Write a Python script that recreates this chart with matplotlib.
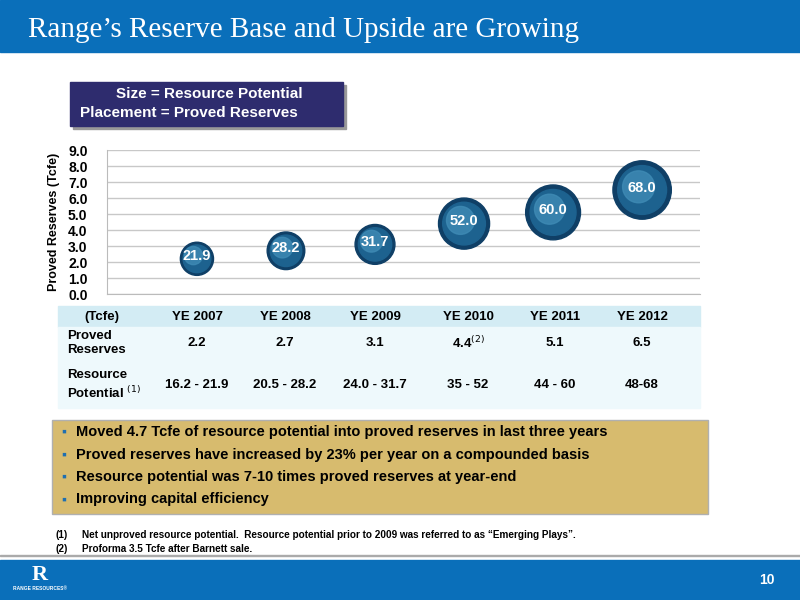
import matplotlib.pyplot as plt
from matplotlib.patches import Rectangle

plt.rcParams["font.family"] = ["Liberation Sans", "DejaVu Sans"]

years = ["YE 2007", "YE 2008", "YE 2009", "YE 2010", "YE 2011", "YE 2012"]
proved = [2.2, 2.7, 3.1, 4.4, 5.1, 6.5]
potential = [21.9, 28.2, 31.7, 52.0, 60.0, 68.0]
proved_labels = ["2.2", "2.7", "3.1", "4.4$^{(2)}$", "5.1", "6.5"]
potential_labels = ["16.2 - 21.9", "20.5 - 28.2", "24.0 - 31.7", "35 - 52", "44 - 60", "48-68"]
bullets = [
    "Moved 4.7 Tcfe of resource potential into proved reserves in last three years",
    "Proved reserves have increased by 23% per year on a compounded basis",
    "Resource potential was 7-10 times proved reserves at year-end",
    "Improving capital efficiency",
]

W, H = 800, 600
fig = plt.figure(figsize=(8, 6), dpi=100)
fig.patch.set_facecolor("white")


def box(x0, y0, x1, y1, **kw):
    # pixel coords, y from top
    fig.patches.append(Rectangle((x0 / W, 1 - y1 / H), (x1 - x0) / W, (y1 - y0) / H,
                                 transform=fig.transFigure, figure=fig, **kw))


def txt(x, y, s, **kw):
    fig.text(x / W, 1 - y / H, s, **kw)


blue = "#0a6fba"
# title banner
box(0, 0, 800, 52, color=blue)
txt(28, 30, "Range\u2019s Reserve Base and Upside are Growing", color="white",
    fontsize=21, family="Liberation Serif", va="center")
# footer
box(0, 560, 800, 600, color=blue)
txt(767, 580, "10", color="white", fontsize=10, fontweight="bold", ha="center", va="center")
txt(40, 590, "RANGE RESOURCES\u00ae", color="white", fontsize=3.5, fontweight="bold", ha="center")
txt(40, 575, "R", color="white", fontsize=16, fontweight="bold", ha="center", va="center",
    family="Liberation Serif")

# legend box
box(73, 85, 346, 129, color="#999999")
box(70, 82, 343, 126, color="#2e2c6e")
txt(209, 94, "Size = Resource Potential", color="white", fontsize=11, fontweight="bold",
    ha="center", va="center")
txt(80, 113, "Placement = Proved Reserves", color="white", fontsize=11, fontweight="bold",
    va="center")

# chart
ax = fig.add_axes([107 / W, 1 - 294 / H, (700 - 107) / W, (294 - 150) / H])
x = list(range(len(years)))
ax.set_xlim(-1.01, 5.65)
ax.set_ylim(0, 9)
ax.set_yticks([i for i in range(10)])
ax.set_yticklabels([f"{i:.1f}" for i in range(10)], fontsize=10, fontweight="bold")
ax.set_xticks([])
ax.grid(axis="y", color="#c8c8c8", linewidth=1)
ax.set_axisbelow(True)
for s in ["top", "right"]:
    ax.spines[s].set_visible(False)
ax.spines["left"].set_color("#bbbbbb")
ax.spines["bottom"].set_color("#bbbbbb")
ax.tick_params(length=0, pad=14)
ax.set_ylabel("Proved Reserves (Tcfe)", fontsize=9, fontweight="bold", labelpad=6)
sizes = [p * 26 for p in potential]
ax.scatter(x, proved, s=sizes, color="#0f3f66", zorder=3)
ax.scatter(x, proved, s=[s * 0.7 for s in sizes], color="#1d628f", zorder=3)
ax.scatter([v - 0.04 for v in x], [p + 0.2 for p in proved], s=[s * 0.3 for s in sizes],
           color="#3f8bb5", zorder=3, alpha=0.8)
for xi, p, pot in zip(x, proved, potential):
    ax.text(xi, p + 0.15, f"{pot:.1f}", color="white", fontsize=10.5, fontweight="bold",
            ha="center", va="center", zorder=4)

# table
cols = [197, 285, 375, 468, 555, 642]
box(58, 306, 700, 327, color="#d3ecf4")
box(58, 327, 700, 408, color="#eef9fc")
txt(102, 317, "(Tcfe)", fontsize=9.5, fontweight="bold", ha="center", va="center")
for cx, yr, pl, rl in zip(cols, years, proved_labels, potential_labels):
    txt(cx, 317, yr, fontsize=9.5, fontweight="bold", ha="center", va="center")
    txt(cx, 343, pl, fontsize=9.5, fontweight="bold", ha="center", va="center")
    txt(cx, 385, rl, fontsize=9.5, fontweight="bold", ha="center", va="center")
txt(67, 343, "Proved\nReserves", fontsize=9.5, fontweight="bold", va="center", linespacing=1.3)
txt(67, 385, "Resource\nPotential $^{(1)}$", fontsize=9.5, fontweight="bold", va="center",
    linespacing=1.3)

# bullet box
box(52, 420, 708, 514, facecolor="#d7bb6e", edgecolor="#b0b0b0", linewidth=1)
for i, b in enumerate(bullets):
    yy = 432 + i * 22.5
    txt(61, yy, "\u25aa", color="#1f6fb0", fontsize=10, va="center")
    txt(76, yy, b, fontsize=10.5, fontweight="bold", va="center")

# footnotes
txt(55, 535, "(1)", fontsize=7.2, fontweight="bold", va="center")
txt(82, 535, "Net unproved resource potential.  Resource potential prior to 2009 was referred to as \u201cEmerging Plays\u201d.",
    fontsize=7.2, fontweight="bold", va="center")
txt(55, 549, "(2)", fontsize=7.2, fontweight="bold", va="center")
txt(82, 549, "Proforma 3.5 Tcfe after Barnett sale.", fontsize=7.2, fontweight="bold", va="center")
box(0, 555, 800, 556, color="#aaaaaa")

fig.savefig("out.png", dpi=100)
